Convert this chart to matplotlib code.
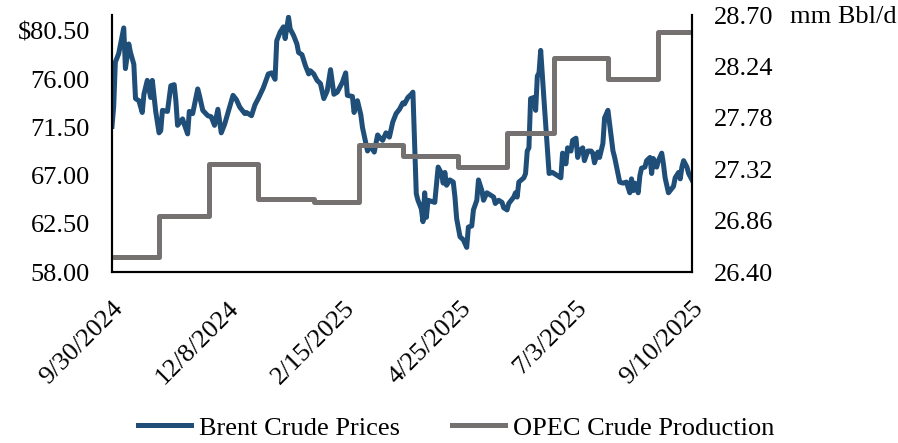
import matplotlib
matplotlib.use('Agg')
import matplotlib.pyplot as plt
import matplotlib.transforms as mtransforms
import pandas as pd

plt.rcParams.update({
    'font.family': 'serif',
    'font.serif': ['Liberation Serif', 'DejaVu Serif'],
    'font.size': 19,
})

# Brent daily prices ($/bbl)
brent_dates = [
    '2024-09-30', '2024-10-01', '2024-10-02', '2024-10-04', '2024-10-07', '2024-10-08',
    '2024-10-10', '2024-10-11', '2024-10-13', '2024-10-14', '2024-10-16', '2024-10-18',
    '2024-10-19', '2024-10-21', '2024-10-23', '2024-10-24', '2024-10-26', '2024-10-28',
    '2024-10-29', '2024-10-30', '2024-11-02', '2024-11-04', '2024-11-06', '2024-11-07',
    '2024-11-08', '2024-11-11', '2024-11-12', '2024-11-14', '2024-11-15', '2024-11-17',
    '2024-11-20', '2024-11-21', '2024-11-23', '2024-11-26', '2024-11-28', '2024-11-30',
    '2024-12-02', '2024-12-04', '2024-12-06', '2024-12-09', '2024-12-11', '2024-12-13',
    '2024-12-15', '2024-12-18', '2024-12-19', '2024-12-22', '2024-12-24', '2024-12-26',
    '2024-12-29', '2025-01-01', '2025-01-03', '2025-01-05', '2025-01-06', '2025-01-08',
    '2025-01-10', '2025-01-11', '2025-01-13', '2025-01-14', '2025-01-16', '2025-01-18',
    '2025-01-19', '2025-01-21', '2025-01-23', '2025-01-25', '2025-01-26', '2025-01-28',
    '2025-01-30', '2025-02-01', '2025-02-03', '2025-02-05', '2025-02-07', '2025-02-09',
    '2025-02-11', '2025-02-14', '2025-02-16', '2025-02-17', '2025-02-20', '2025-02-21',
    '2025-02-23', '2025-02-25', '2025-02-26', '2025-02-28', '2025-03-01', '2025-03-03',
    '2025-03-05', '2025-03-07', '2025-03-08', '2025-03-10', '2025-03-12', '2025-03-14',
    '2025-03-16', '2025-03-18', '2025-03-20', '2025-03-22', '2025-03-23', '2025-03-25',
    '2025-03-27', '2025-03-28', '2025-03-29', '2025-03-30', '2025-03-31', '2025-04-02',
    '2025-04-03', '2025-04-04', '2025-04-05', '2025-04-06', '2025-04-08', '2025-04-10',
    '2025-04-12', '2025-04-14', '2025-04-15', '2025-04-16', '2025-04-17', '2025-04-19',
    '2025-04-21', '2025-04-22', '2025-04-23', '2025-04-25', '2025-04-27', '2025-04-29',
    '2025-04-30', '2025-05-02', '2025-05-03', '2025-05-05', '2025-05-06', '2025-05-08',
    '2025-05-09', '2025-05-11', '2025-05-12', '2025-05-15', '2025-05-16', '2025-05-18',
    '2025-05-20', '2025-05-21', '2025-05-23', '2025-05-24', '2025-05-27', '2025-05-28',
    '2025-05-29', '2025-05-30', '2025-06-02', '2025-06-03', '2025-06-04', '2025-06-05',
    '2025-06-06', '2025-06-08', '2025-06-09', '2025-06-10', '2025-06-11', '2025-06-12',
    '2025-06-14', '2025-06-17', '2025-06-19', '2025-06-21', '2025-06-24', '2025-06-25',
    '2025-06-26', '2025-06-27', '2025-06-28', '2025-06-30', '2025-07-01', '2025-07-03',
    '2025-07-04', '2025-07-05', '2025-07-07', '2025-07-08', '2025-07-10', '2025-07-12',
    '2025-07-13', '2025-07-14', '2025-07-16', '2025-07-17', '2025-07-19', '2025-07-20',
    '2025-07-22', '2025-07-24', '2025-07-25', '2025-07-26', '2025-07-28', '2025-07-29',
    '2025-07-31', '2025-08-02', '2025-08-04', '2025-08-05', '2025-08-06', '2025-08-07',
    '2025-08-09', '2025-08-10', '2025-08-11', '2025-08-13', '2025-08-14', '2025-08-16',
    '2025-08-17', '2025-08-18', '2025-08-20', '2025-08-21', '2025-08-23', '2025-08-24',
    '2025-08-25', '2025-08-27', '2025-08-28', '2025-08-30', '2025-08-31', '2025-09-02',
    '2025-09-03', '2025-09-04', '2025-09-05', '2025-09-07', '2025-09-08', '2025-09-10',
]
brent_prices = [
    71.6, 73.4, 77.6, 78.4, 80.8, 77.0,
    79.3, 78.5, 77.4, 74.2, 74.0, 72.9,
    74.6, 75.9, 74.3, 75.9, 73.0, 71.0,
    71.2, 73.1, 73.0, 75.4, 75.5, 74.0,
    71.7, 72.3, 71.8, 70.9, 73.0, 72.8,
    75.1, 74.5, 73.1, 72.6, 72.5, 71.7,
    73.2, 71.0, 71.8, 73.4, 74.5, 74.1,
    73.4, 72.8, 72.9, 72.6, 73.6, 74.2,
    75.2, 76.5, 76.6, 76.0, 79.6, 80.4,
    80.9, 79.8, 81.8, 80.7, 80.1, 79.3,
    78.5, 78.3, 77.3, 76.5, 76.8, 76.5,
    75.9, 75.6, 74.2, 74.9, 76.9, 74.6,
    74.8, 75.7, 76.6, 74.5, 74.4, 72.9,
    74.0, 72.7, 71.5, 70.0, 69.3, 69.8,
    69.2, 70.8, 70.6, 70.3, 71.0, 70.6,
    72.0, 72.8, 73.2, 73.8, 73.7, 74.3,
    74.6, 74.8, 70.1, 65.3, 64.7, 63.9,
    62.7, 65.4, 63.1, 64.7, 64.6, 64.5,
    67.8, 67.2, 66.3, 67.3, 66.1, 66.6,
    66.4, 65.0, 63.0, 61.3, 61.0, 60.3,
    62.2, 62.3, 63.8, 64.7, 66.6, 65.6,
    64.7, 65.4, 65.3, 65.0, 64.4, 64.7,
    64.5, 64.0, 63.8, 64.4, 65.0, 65.4,
    65.0, 66.4, 66.8, 67.2, 69.3, 69.6,
    74.2, 74.3, 73.1, 76.3, 76.6, 78.7,
    74.0, 67.2, 67.3, 67.1, 66.8, 69.1,
    68.8, 68.1, 69.6, 69.3, 70.3, 70.5,
    68.7, 69.3, 69.6, 68.4, 69.3, 69.3,
    69.1, 68.2, 69.2, 68.7, 70.0, 72.4,
    73.1, 70.6, 69.3, 68.7, 67.2, 66.4,
    66.3, 66.4, 65.4, 66.7, 65.6, 66.3,
    65.4, 67.0, 67.7, 67.8, 68.4, 68.7,
    67.2, 68.6, 67.8, 68.4, 69.1, 68.1,
    66.8, 65.4, 65.6, 66.0, 66.8, 67.3,
    66.7, 67.8, 68.4, 67.8, 67.2, 66.6,
]

# OPEC crude production (mm Bbl/d), level starting on each date
opec_dates = ['2024-09-30', '2024-10-28', '2024-11-27', '2024-12-26', '2025-01-28', '2025-02-24',
              '2025-03-22', '2025-04-24', '2025-05-23', '2025-06-20', '2025-07-22', '2025-08-21',
              '2025-09-10']
opec_prod = [26.53, 26.90, 27.37, 27.05, 27.03, 27.54,
             27.44, 27.34, 27.64, 28.32, 28.13, 28.55,
             28.55]

x_tick_labels = ['9/30/2024', '12/8/2024', '2/15/2025', '4/25/2025', '7/3/2025', '9/10/2025']
left_ticks = [58.00, 62.50, 67.00, 71.50, 76.00, 80.50]
right_ticks = [26.40, 26.86, 27.32, 27.78, 28.24, 28.70]

blue = '#1F4E79'
grey = '#767171'

fig = plt.figure(figsize=(8.98, 4.43), dpi=100)
ax = fig.add_axes([0.1247, 0.386, 0.6459, 0.580])
ax2 = ax.twinx()

l1, = ax.plot(pd.to_datetime(brent_dates), brent_prices, color=blue, lw=3.6,
              solid_joinstyle='round', label='Brent Crude Prices')
l2, = ax2.plot(pd.to_datetime(opec_dates), opec_prod, color=grey, lw=3.6,
               drawstyle='steps-post', label='OPEC Crude Production')

xt = pd.to_datetime(x_tick_labels, format='%m/%d/%Y')
ax.set_xlim(xt[0], xt[-1])
ax.set_xticks(xt)
ax.set_xticklabels(x_tick_labels, rotation=45, ha='right', va='top',
                   rotation_mode='anchor')
# nudge the rotated date labels a few pixels left
shift = mtransforms.ScaledTranslation(-5 / 100, 0, fig.dpi_scale_trans)
for lab in ax.get_xticklabels():
    lab.set_transform(lab.get_transform() + shift)

ax.set_ylim(58, 82)
ax.set_yticks(left_ticks)
ax.set_yticklabels(['$' + f'{v:.2f}' if v == left_ticks[-1] else f'{v:.2f}' for v in left_ticks])
ax2.set_ylim(26.40, 28.70)
ax2.set_yticks(right_ticks)
ax2.set_yticklabels([f'{v:.2f}' for v in right_ticks])

ax.tick_params(axis='x', length=0, pad=18)
ax.tick_params(axis='y', length=0, pad=16)
ax2.tick_params(axis='y', length=0, pad=16)

for a in (ax, ax2):
    a.spines['top'].set_visible(False)
    for s in ('left', 'right', 'bottom'):
        a.spines[s].set_color('black')
        a.spines[s].set_linewidth(1.5)

fig.text(790 / 898, 1 - 17 / 443, 'mm Bbl/d', ha='left', va='center', fontsize=19)

fig.legend(handles=[l1, l2], loc='center', bbox_to_anchor=(0.508, 0.034), ncol=2,
           frameon=False, handlelength=2.0, handletextpad=0.3, columnspacing=2.0,
           fontsize=19)

fig.savefig('out.png', dpi=100)
